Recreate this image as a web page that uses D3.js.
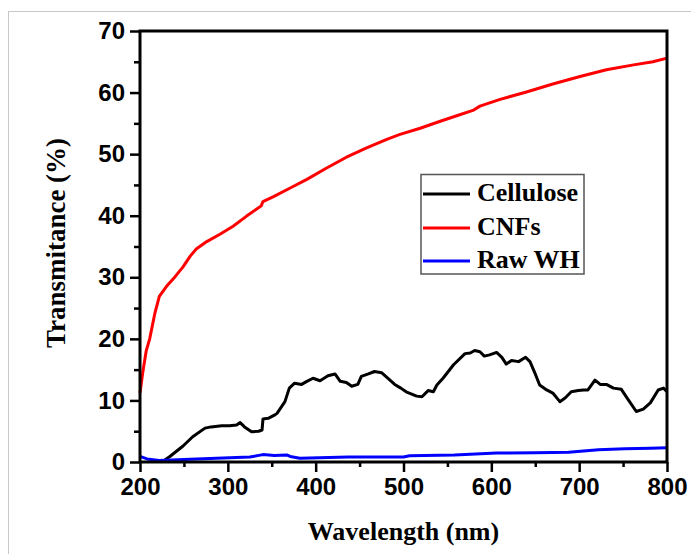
<!DOCTYPE html>
<html>
<head>
<meta charset="utf-8">
<script src="https://cdn.jsdelivr.net/npm/d3@7/dist/d3.min.js"></script>
<style>
  html, body { margin: 0; padding: 0; background: #fff; }
  svg { display: block; }
</style>
</head>
<body>
<svg id="chart" width="691" height="554"></svg>
<script>
// UV-Vis transmittance spectra
const celluloseNm = [228,234,249,260,274,281,293,302,310,314,319,327,335,339,340,346,353,356,365,370,376,384,390,397,405,414,422,428,435,441,448,452,460,467,475,483,490,497,503,515,521,528,534,538,545,557,570,576,581,587,592,598,606,612,617,623,631,639,644,650,655,663,670,678,684,691,699,705,710,718,724,731,739,748,756,765,773,781,790,796,800];
const celluloseT  = [0.3,0.9,2.6,4.1,5.5,5.7,5.9,5.9,6.0,6.4,5.7,4.9,5.0,5.2,7.0,7.1,7.6,7.9,9.8,12.0,12.8,12.6,13.1,13.6,13.2,14.0,14.3,13.1,12.9,12.3,12.6,13.9,14.3,14.7,14.5,13.5,12.6,12.0,11.4,10.7,10.6,11.6,11.4,12.5,13.6,15.8,17.6,17.7,18.1,17.9,17.2,17.4,17.8,17.0,15.9,16.5,16.3,17.0,16.3,14.3,12.5,11.7,11.2,9.8,10.4,11.4,11.6,11.7,11.7,13.3,12.6,12.6,12.0,11.8,10.1,8.2,8.6,9.6,11.7,12.0,11.4];

const cnfNm = [200,203,207,211,217,222,230,240,249,257,264,276,291,306,321,338,340,352,371,390,412,435,458,481,496,519,541,564,579,587,610,640,670,701,731,762,784,800];
const cnfT  = [11.2,14.4,18.0,20.0,24.2,26.9,28.5,30.1,31.7,33.4,34.6,35.8,37.0,38.3,39.9,41.6,42.3,43.1,44.5,45.9,47.7,49.5,51.0,52.4,53.2,54.2,55.3,56.4,57.1,57.8,58.9,60.1,61.4,62.6,63.7,64.5,65.0,65.6];

const rawNm = [200,208,222,257,287,325,340,353,367,371,382,437,500,507,558,606,650,688,722,752,781,800];
const rawT  = [0.9,0.5,0.25,0.45,0.6,0.8,1.2,1.05,1.15,0.9,0.6,0.8,0.8,1.0,1.15,1.45,1.5,1.6,2.0,2.15,2.25,2.3];

const xTicks = [200,300,400,500,600,700,800];
const yTicks = [0,10,20,30,40,50,60,70];
const legendNames = ["Cellulose","CNFs","Raw WH"];
const seriesColors = ["#000000","#ff0000","#0000ff"];

const svg = d3.select("#chart");
const W = 691, H = 554;
const m = {left: 140, right: 667, top: 31, bottom: 462};

// outer light frame
svg.append("rect")
  .attr("x", 8.5).attr("y", 11.5)
  .attr("width", W).attr("height", H)
  .attr("fill", "none").attr("stroke", "#c8c8c8").attr("stroke-width", 1);

const x = d3.scaleLinear().domain([200, 800]).range([m.left, m.right]);
const y = d3.scaleLinear().domain([0, 70]).range([m.bottom, m.top]);

const tickFont = "'Liberation Sans', Arial, sans-serif";
const serif = "'Liberation Serif', 'Times New Roman', serif";

// minor ticks
const xMinor = d3.range(250, 800, 100);
const yMinor = d3.range(5, 70, 10);

const xAxis = d3.axisBottom(x).tickValues(xTicks).tickSize(10).tickSizeOuter(0).tickPadding(6);
const gx = svg.append("g").attr("transform", `translate(0,${m.bottom})`).call(xAxis);
gx.select(".domain").remove();
gx.selectAll(".tick line").attr("stroke", "#000").attr("stroke-width", 2.5);
gx.selectAll(".tick text").attr("font-family", tickFont).attr("font-weight", "bold")
  .attr("font-size", 24).attr("fill", "#000");
const gxm = svg.append("g").attr("transform", `translate(0,${m.bottom})`)
  .call(d3.axisBottom(x).tickValues(xMinor).tickSize(5).tickFormat(""));
gxm.select(".domain").remove();
gxm.selectAll(".tick line").attr("stroke", "#000").attr("stroke-width", 2.5);

const yAxis = d3.axisLeft(y).tickValues(yTicks).tickSize(10).tickSizeOuter(0).tickPadding(5);
const gy = svg.append("g").attr("transform", `translate(${m.left},0)`).call(yAxis);
gy.select(".domain").remove();
gy.selectAll(".tick line").attr("stroke", "#000").attr("stroke-width", 2.5);
gy.selectAll(".tick text").attr("font-family", tickFont).attr("font-weight", "bold")
  .attr("font-size", 24).attr("fill", "#000");
const gym = svg.append("g").attr("transform", `translate(${m.left},0)`)
  .call(d3.axisLeft(y).tickValues(yMinor).tickSize(6).tickFormat(""));
gym.select(".domain").remove();
gym.selectAll(".tick line").attr("stroke", "#000").attr("stroke-width", 2.5);

// series
const series = [
  {nm: celluloseNm, t: celluloseT},
  {nm: cnfNm, t: cnfT},
  {nm: rawNm, t: rawT}
];
const line = d3.line().x(d => x(d[0])).y(d => y(d[1]));
series.forEach((s, i) => {
  svg.append("path")
    .datum(s.nm.map((v, j) => [v, s.t[j]]))
    .attr("d", line)
    .attr("fill", "none")
    .attr("stroke", seriesColors[i])
    .attr("stroke-width", 3)
    .attr("stroke-linejoin", "round");
});

// plot frame
svg.append("rect")
  .attr("x", m.left).attr("y", m.top)
  .attr("width", m.right - m.left).attr("height", m.bottom - m.top)
  .attr("fill", "none").attr("stroke", "#000").attr("stroke-width", 3);

// axis titles
svg.append("text")
  .attr("x", (m.left + m.right) / 2).attr("y", 540)
  .attr("text-anchor", "middle")
  .attr("font-family", serif).attr("font-weight", "bold").attr("font-size", 26)
  .attr("fill", "#000")
  .text("Wavelength (nm)");

svg.append("text")
  .attr("transform", `translate(65,243) rotate(-90)`)
  .attr("text-anchor", "middle")
  .attr("font-family", serif).attr("font-weight", "bold").attr("font-size", 27)
  .attr("fill", "#000")
  .text("Transmitance (%)");

// legend
const lg = svg.append("g");
lg.append("rect")
  .attr("x", 421).attr("y", 174.5).attr("width", 163).attr("height", 99.5)
  .attr("fill", "#fff").attr("stroke", "#555").attr("stroke-width", 1.5);
const legendY = [194, 228, 261];
legendNames.forEach((name, i) => {
  lg.append("line")
    .attr("x1", 423).attr("x2", 470)
    .attr("y1", legendY[i]).attr("y2", legendY[i])
    .attr("stroke", seriesColors[i]).attr("stroke-width", 3);
  lg.append("text")
    .attr("x", 477).attr("y", legendY[i] + 7)
    .attr("font-family", serif).attr("font-weight", "bold").attr("font-size", 26)
    .attr("fill", "#000")
    .text(name);
});
</script>
</body>
</html>
